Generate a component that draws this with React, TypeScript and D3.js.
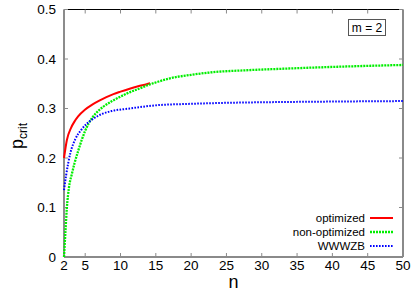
import * as React from 'react';
import * as d3 from 'd3';

// values (n, p_crit)
const optN = [2, 2.4, 3, 3.5, 4, 5, 6, 7, 8, 9, 10, 11.3, 12.5, 13.7, 14.2];
const optP = [0.2, 0.236, 0.261, 0.274, 0.284, 0.298, 0.308, 0.316, 0.323, 0.329, 0.334, 0.34, 0.345, 0.349, 0.351];

const nonN = [2, 2.2, 2.4, 2.7, 3.1, 3.5, 4, 4.5, 5, 5.5, 6.5, 7.5, 8.8, 10, 11, 12.8, 14, 15.3, 17, 20, 23.6, 27.4, 32.4, 40, 50];
const nonP = [0, 0.05, 0.098, 0.14, 0.167, 0.19, 0.214, 0.236, 0.255, 0.27, 0.29, 0.303, 0.315, 0.324, 0.331, 0.341, 0.348, 0.354, 0.361, 0.368, 0.374, 0.377, 0.38, 0.384, 0.388];

const wzbN = [2, 2.3, 2.9, 3.6, 4.5, 6, 7.4, 8.8, 11.3, 14, 15.5, 19, 23.6, 32.4, 40, 50];
const wzbP = [0.135, 0.165, 0.21, 0.238, 0.258, 0.278, 0.289, 0.295, 0.3, 0.305, 0.307, 0.309, 0.311, 0.313, 0.314, 0.315];

const xTicks = [2, 5, 10, 15, 20, 25, 30, 35, 40, 45, 50];
const yTicks = [0, 0.1, 0.2, 0.3, 0.4, 0.5];

const series = [
  { name: 'optimized', n: optN, p: optP, color: '#ff0000', dash: 'none', w: 2 },
  { name: 'non-optimized', n: nonN, p: nonP, color: '#00ee00', dash: '2,1', w: 2.3 },
  { name: 'WWWZB', n: wzbN, p: wzbP, color: '#0000ff', dash: '1.6,1.4', w: 2 },
];

const font = 'Liberation Sans, Arial, Helvetica, sans-serif';

export default function App() {
  const left = 64, right = 403, top = 9.5, bottom = 257;
  const x = d3.scaleLinear().domain([2, 50]).range([left, right]);
  const y = d3.scaleLinear().domain([0, 0.5]).range([bottom, top]);
  const axisGrey = '#8a8a8a';

  const line = d3.line<[number, number]>()
    .x(d => x(d[0]))
    .y(d => y(d[1]))
    .curve(d3.curveMonotoneX);

  return (
    <svg width={415} height={291} style={{ position: 'absolute', left: 0, top: 0, background: '#fff' }}
      fontFamily={font}>
      <rect width={415} height={291} fill="#fff" />
      {/* frame */}
      <line x1={left} x2={right} y1={top} y2={top} stroke="#000" strokeWidth={1} />
      <line x1={left} x2={left} y1={top} y2={bottom} stroke="#666" strokeWidth={1.5} />
      <line x1={left} x2={right} y1={bottom} y2={bottom} stroke={axisGrey} strokeWidth={2} />
      <line x1={right} x2={right} y1={top} y2={bottom} stroke={axisGrey} strokeWidth={2} />

      {/* y ticks */}
      {yTicks.map(t => (
        <g key={'y' + t}>
          <line x1={left} x2={left + 4} y1={y(t)} y2={y(t)} stroke={axisGrey} strokeWidth={1} />
          <line x1={right} x2={right - 4} y1={y(t)} y2={y(t)} stroke={axisGrey} strokeWidth={1} />
          <text x={56} y={y(t)} dy="0.36em" textAnchor="end" fontSize={13.5} fill="#000">{t}</text>
        </g>
      ))}
      {/* x ticks */}
      {xTicks.map(t => (
        <g key={'x' + t}>
          <line x1={x(t)} x2={x(t)} y1={bottom} y2={bottom - 4} stroke={axisGrey} strokeWidth={1} />
          <line x1={x(t)} x2={x(t)} y1={top} y2={top + 4} stroke={axisGrey} strokeWidth={1} />
          <text x={x(t)} y={270} textAnchor="middle" fontSize={13.5} fill="#000">{t}</text>
        </g>
      ))}

      {/* curves */}
      {series.map(s => (
        <path key={s.name}
          d={line(s.n.map((v, i) => [v, s.p[i]] as [number, number])) || ''}
          fill="none" stroke={s.color} strokeWidth={s.w}
          strokeDasharray={s.dash === 'none' ? undefined : s.dash} />
      ))}

      {/* axis labels */}
      <text x={(left + right) / 2} y={288} textAnchor="middle" fontSize={18} fill="#000">n</text>
      <text transform="translate(23,136) rotate(-90)" textAnchor="middle" fontSize={18} fill="#000">
        p<tspan fontSize={12} dy={4}>crit</tspan>
      </text>

      {/* m = 2 box */}
      <rect x={348.5} y={19.5} width={37} height={16} fill="#fff" stroke="#555" strokeWidth={1} />
      <text x={367} y={32} textAnchor="middle" fontSize={12} fill="#000">m = 2</text>

      {/* legend */}
      {series.map((s, i) => (
        <g key={'lg' + s.name}>
          <text x={365} y={218 + i * 14} dy="0.35em" textAnchor="end" fontSize={11.5} fill="#000">{s.name}</text>
          <line x1={370} x2={393} y1={218 + i * 14} y2={218 + i * 14} stroke={s.color}
            strokeWidth={s.w} strokeDasharray={s.dash === 'none' ? undefined : s.dash} />
        </g>
      ))}
    </svg>
  );
}
